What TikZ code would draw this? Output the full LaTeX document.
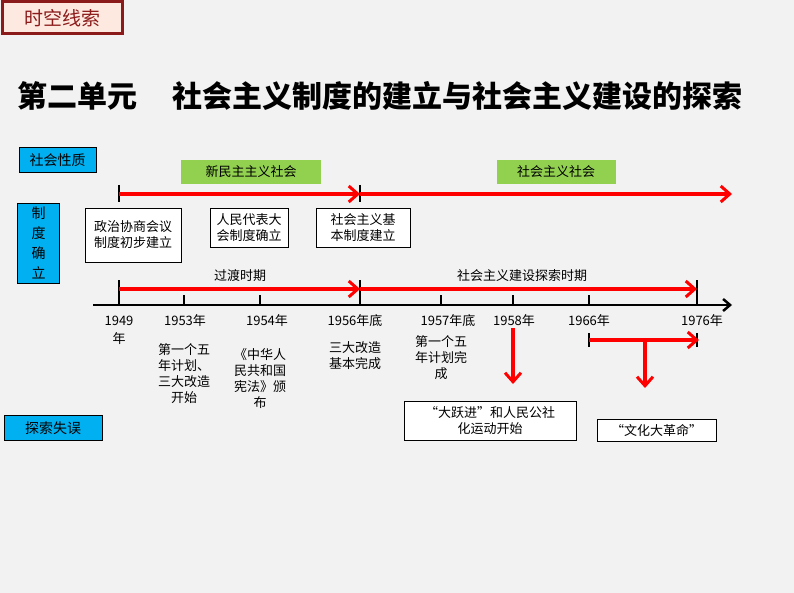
\documentclass[tikz,border=0pt]{standalone}
\usepackage{fontspec}
\setmainfont{Noto Sans CJK SC}
\usepackage{tikz}
\usetikzlibrary{arrows.meta}
\definecolor{tagblue}{HTML}{00B0F0}
\definecolor{taggreen}{HTML}{92D050}
\definecolor{darkred}{HTML}{8B1A1A}
\definecolor{pinkfill}{HTML}{FDE9E0}
\newcommand{\tltick}[3] {\coordinate (#1) at (#2,305); \draw [line width=2.5pt] (#2,305) -- (#2,#3);}
\newcommand{\tlyear}[3] {\node at (#1,321) (#2) {#3};}
\newcommand{\tlnote}[4] {\node at (#1,#2) (#3) [align=center, anchor=north] {#4};}
\newcommand{\tlbox}[5] {\node at (#1) (#2) [draw, fill=white, align=center, minimum width=#3, minimum height=#4] {#5};}
\newcommand{\tltag}[4] {\node at (#1) (#2) [draw, fill=tagblue, minimum height=25pt, minimum width=#3, font=\fontsize{14}{17}\selectfont] {#4};}
\tikzset{redarrow/.style={draw=red, line width=3.5pt, -{Straight Barb[length=9pt,width=16pt,line width=3pt]}}}
\begin{document}
\begin{tikzpicture}[x=1pt, y=-1pt, font=\fontsize{13}{16}\selectfont]
\fill [gray!10] (0,0) rectangle (794,593);
\useasboundingbox (0,0) rectangle (794,593);

\node at (62,18) (tag) [draw=darkred, line width=3pt, fill=pinkfill, text=darkred, minimum width=120pt, minimum height=32pt, font=\fontsize{19}{22}\selectfont] {时空线索};
\node at (380,96) (title) [font=\fontsize{30}{33}\selectfont\bfseries] {第二单元\hspace{1.2em}社会主义制度的建立与社会主义建设的探索};

\tltag {57.5,160} {nature} {77pt} {社会性质};
\node at (38.5,243) (system) [draw, fill=tagblue, minimum width=42pt, minimum height=80pt, align=center, font=\fontsize{14}{20}\selectfont] {制\\度\\确\\立};
\tltag {53,428} {mistake} {98pt} {探索失误};

\node at (251,172) (newdem) [fill=taggreen, minimum width=140pt, minimum height=24pt] {新民主主义社会};
\node at (556,172) (social) [fill=taggreen, minimum width=119pt, minimum height=24pt] {社会主义社会};

% top arrow
\coordinate (s0) at (119,194); \coordinate (s1) at (360,194); \coordinate (s2) at (732,194);
\draw [line width=2.5pt] (119,185) -- (119,202);
\draw [line width=2.5pt] (360,185) -- (360,202);
\draw [redarrow] (s0) -- (s1);
\draw [redarrow] (s1) -- (s2);

\tlbox {133,235} {cppcc} {96pt} {54pt} {政治协商会议\\制度初步建立};
\tlbox {249,228} {npc} {78pt} {39pt} {人民代表大\\会制度确立};
\tlbox {363,228} {basic} {94pt} {39pt} {社会主义基\\本制度建立};

% timeline
\coordinate (ax0) at (93,305); \coordinate (ax1) at (732,305);
\draw [line width=2.5pt, -{Straight Barb[length=7pt,width=12pt]}] (ax0) -- (ax1);
\tltick {t49} {119} {280};
\tltick {t53} {184} {295};
\tltick {t54} {260} {295};
\tltick {t56} {360} {280};
\tltick {t57} {441} {295};
\tltick {t58} {513} {295};
\tltick {t66} {589} {295};
\tltick {t76} {697} {280};

\coordinate (p0) at (119,289); \coordinate (p1) at (360,289); \coordinate (p2) at (697,289);
\draw [redarrow] (p0) -- (p1);
\draw [redarrow] (p1) -- (p2);
\node at (240,276) (trans) {过渡时期};
\node at (522,276) (explore) {社会主义建设探索时期};

\tlyear {119} {y49} {1949};
\node at (119,339) (y49b) {年};
\tlyear {185} {y53} {1953年};
\tlyear {267} {y54} {1954年};
\tlyear {355} {y56} {1956年底};
\tlyear {448} {y57} {1957年底};
\tlyear {514} {y58} {1958年};
\tlyear {589} {y66} {1966年};
\tlyear {702} {y76} {1976年};

\tlnote {184} {340} {n53} {第一个五\\年计划、\\三大改造\\开始};
\tlnote {260} {345} {n54} {《中华人\\民共和国\\宪法》颁\\布};
\tlnote {355} {338} {n56} {三大改造\\基本完成};
\tlnote {441} {332} {n57} {第一个五\\年计划完\\成};

\tlbox {490,421} {leap} {172pt} {39pt} {“大跃进”和人民公社\\化运动开始};
\tlbox {656.5,430} {culture} {119pt} {22pt} {“文化大革命”};

\coordinate (d0) at (513,328); \coordinate (d1) at (513,384);
\draw [redarrow] (d0) -- (d1);
\coordinate (c0) at (589,340); \coordinate (c1) at (699,340); \coordinate (cm) at (645,340); \coordinate (c2) at (645,388);
\draw [line width=2.5pt] (589,333) -- (589,347);
\draw [line width=2.5pt] (697,333) -- (697,347);
\draw [redarrow] (c0) -- (c1);
\draw [redarrow] (cm) -- (c2);
\end{tikzpicture}
\end{document}
